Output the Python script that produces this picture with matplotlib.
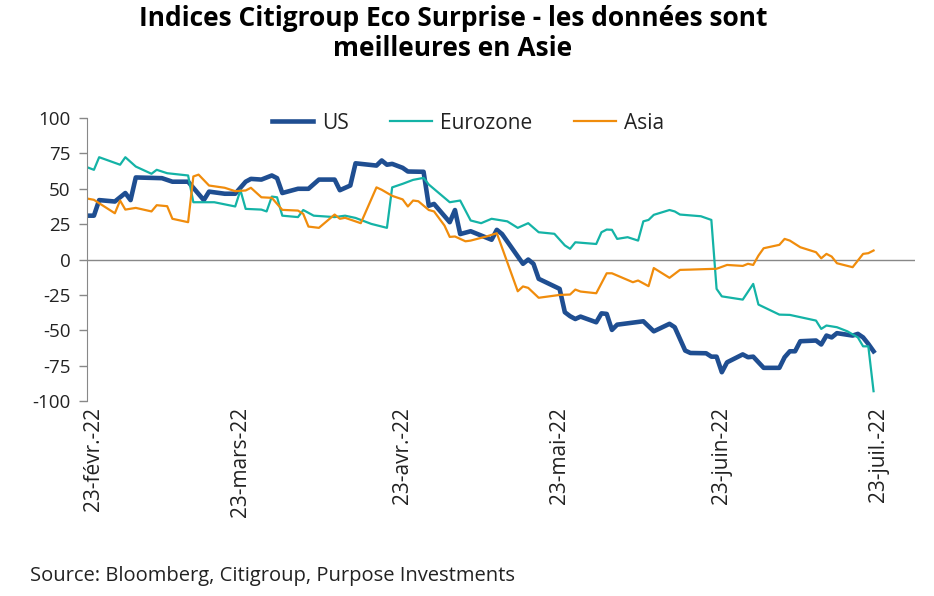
import numpy as np
import matplotlib
matplotlib.use('Agg')
import matplotlib.pyplot as plt

plt.rcParams['font.family'] = ['Open Sans', 'DejaVu Sans']

# days counted from 22-févr.-2022
start = np.datetime64('2022-02-22')

us_days = [0, 1, 2, 5, 7, 8, 9, 14, 16, 19, 22, 23, 26, 28, 30, 31, 33, 35, 36, 37,
           40, 42, 44, 47, 48, 50, 51, 55, 56, 57, 58, 60, 61, 64, 65, 66, 69, 70, 71, 73,
           77, 78, 79, 83, 84, 85, 86, 90, 91, 92, 93, 94, 97, 98, 99, 100, 101, 106, 108, 111,
           112, 114, 115, 118, 119, 120, 121, 122, 125, 126, 127, 129, 132, 133, 134, 135, 136, 139, 140, 141,
           142, 143, 146, 147, 148, 149, 150]
us_vals = [31, 31, 42, 41, 47, 42, 58, 57.5, 55, 55, 42, 48, 46.5, 46.5, 55, 57, 56.5, 59.4, 57.5, 47,
           50, 50, 56.5, 56.5, 49, 52.3, 68, 66.4, 70, 67, 67.6, 64.8, 62.2, 62, 38, 39.3, 26.4, 35, 18, 20,
           14, 21, 18, -3, 0, -3, -13.6, -20.7, -37.2, -40, -42, -40.3, -44.3, -38, -38.4, -49.7, -46, -43.6, -50.7, -45.4,
           -47.8, -64.3, -66, -66.2, -68.6, -68.6, -79.6, -72.6, -67, -69, -68.6, -76.5, -76.5, -69, -64.8, -64.8, -57.7, -57.2, -60, -53.7,
           -55, -52, -53.7, -52.5, -55, -59.6, -64.8]

ez_days = [0, 1, 2, 6, 7, 9, 12, 13, 15, 19, 20, 24, 28, 29, 30, 33, 34, 35, 36, 37,
           40, 41, 43, 47, 49, 51, 54, 57, 58, 60, 62, 64, 65, 69, 71, 73, 75, 77, 80, 82,
           84, 86, 89, 91, 92, 93, 97, 98, 99, 100, 101, 103, 105, 106, 107, 108, 111, 112, 113, 117,
           119, 120, 121, 125, 127, 128, 132, 134, 139, 140, 141, 143, 145, 147, 148, 149, 150]
ez_vals = [64.8, 63.4, 72.3, 67, 72.3, 65.7, 60.6, 63.4, 61, 59.4, 40.5, 40.5, 37.5, 49, 35.8, 35.3, 34, 44.5, 44, 31,
           30, 35, 31, 30, 31, 29.4, 25.2, 22.4, 51, 53.5, 56.3, 57.7, 53, 40.5, 41.7, 27.6, 25.7, 28.8, 27, 22.4,
           25.7, 19.3, 18.2, 10, 7.6, 12.2, 11, 19.3, 21.2, 21, 14.6, 15.8, 13.4, 27, 28, 31.6, 35, 34, 31.8, 30.6,
           28, -20.7, -26, -28.3, -17.2, -31.8, -38.9, -39.1, -43.1, -49, -46.6, -47.8, -50.7, -55, -61.3, -61.3, -93]

asia_days = [0, 1, 2, 5, 6, 7, 9, 12, 13, 15, 16, 19, 20, 21, 23, 26, 28, 30, 31, 33,
             35, 37, 40, 41, 42, 44, 47, 48, 49, 52, 55, 56, 58, 60, 61, 62, 63, 65, 66, 68,
             69, 70, 72, 73, 76, 78, 82, 83, 84, 86, 90, 92, 93, 94, 97, 99, 100, 104, 105, 107,
             108, 111, 113, 115, 120, 122, 125, 126, 127, 128, 129, 132, 133, 134, 136, 139, 140, 141, 142, 143,
             146, 148, 149, 150]
asia_vals = [42.9, 42.2, 39.8, 32.7, 41.7, 35.3, 36.5, 34, 38.4, 37.7, 28.8, 26.4, 58.7, 60, 52.3, 50.7, 48.3, 48.8, 50.7, 44,
             43.6, 35.1, 34.6, 32.3, 23.3, 22.4, 31.8, 28.8, 29.5, 25.7, 51, 49.3, 45, 42.5, 37.5, 41.7, 41.2, 35, 34, 24,
             16, 16.3, 12.9, 13.4, 16.3, 18.6, -22.4, -19, -20, -27, -25, -24.7, -21.2, -22.6, -23.8, -9.7, -9.7, -16, -14.8, -18.8,
             -6, -12.9, -7.3, -7.1, -6.5, -3.8, -4.5, -3, -3.8, 2.8, 8, 10.4, 14.6, 13.4, 8.7, 5.2, 0.9, 4, 2.1, -2.6,
             -5.4, 4, 4.5, 6.4]

tick_dates = ['2022-02-23', '2022-03-23', '2022-04-23', '2022-05-23', '2022-06-23', '2022-07-23']
tick_labels = ['23-févr.-22', '23-mars-22', '23-avr.-22', '23-mai-22', '23-juin-22', '23-juil.-22']
y_ticks = [-100, -75, -50, -25, 0, 25, 50, 75, 100]


def to_dates(days):
    return start + np.array(days).astype('timedelta64[D]')


fig = plt.figure(figsize=(9.34, 5.96), dpi=100)
ax = fig.add_axes([0.0931, 0.327, 0.887, 0.475])

ax.plot(to_dates(us_days), us_vals, color='#1f4e91', lw=3.3, label='US', solid_joinstyle='round')
ax.plot(to_dates(ez_days), ez_vals, color='#14b3a6', lw=1.6, label='Eurozone')
ax.plot(to_dates(asia_days), asia_vals, color='#f08c0c', lw=1.6, label='Asia')

ax.set_ylim(-100, 100)
ax.set_xlim(start - np.timedelta64(8, 'h'), start + np.timedelta64(158, 'D'))
ax.set_yticks(y_ticks)
ax.set_yticklabels([str(v) for v in y_ticks], fontsize=13.5, color='#222222')

ax.set_xticks(np.array(tick_dates, dtype='datetime64[D]'))
ax.set_xticklabels(tick_labels, rotation=90, fontsize=15, color='#222222', va='top', ha='center')
ax.tick_params(axis='x', length=0, pad=4)
ax.tick_params(axis='y', length=6, color='#888888', width=1, pad=6)

for s in ['top', 'right', 'bottom']:
    ax.spines[s].set_visible(False)
ax.spines['left'].set_color('#888888')
ax.axhline(0, color='#888888', lw=1, zorder=1)

leg = ax.legend(loc='upper center', bbox_to_anchor=(0.46, 1.085), ncol=3, frameon=False,
                fontsize=15, handlelength=2.0, handletextpad=0.4, columnspacing=2.0)
for t in leg.get_texts():
    t.set_color('#222222')

fig.text(0.485, 0.992, 'Indices Citigroup Eco Surprise - les données sont\nmeilleures en Asie',
         ha='center', va='top', fontsize=19, fontweight='bold', linespacing=1.15)
fig.text(0.032, 0.025, 'Source: Bloomberg, Citigroup, Purpose Investments', fontsize=14.5, color='#222222')

fig.savefig('out.png', dpi=100)
